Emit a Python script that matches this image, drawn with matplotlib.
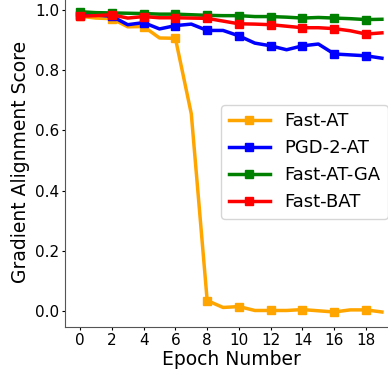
import numpy as np
import matplotlib
matplotlib.use("Agg")
import matplotlib.pyplot as plt

epochs = list(range(20))

fast_at = [0.978, 0.972, 0.970, 0.943, 0.944, 0.906, 0.905, 0.655, 0.036, 0.013,
           0.016, 0.003, 0.003, 0.003, 0.006, 0.002, -0.002, 0.005, 0.005, -0.002]
pgd2_at = [0.983, 0.982, 0.978, 0.950, 0.957, 0.936, 0.947, 0.952, 0.931, 0.931,
           0.913, 0.889, 0.880, 0.867, 0.880, 0.886, 0.853, 0.850, 0.847, 0.839]
fast_at_ga = [0.993, 0.990, 0.989, 0.988, 0.987, 0.985, 0.985, 0.983, 0.981, 0.980,
              0.980, 0.977, 0.977, 0.975, 0.972, 0.974, 0.972, 0.970, 0.967, 0.968]
fast_bat = [0.978, 0.980, 0.983, 0.972, 0.977, 0.973, 0.973, 0.972, 0.971, 0.962,
            0.953, 0.952, 0.950, 0.945, 0.940, 0.940, 0.937, 0.930, 0.919, 0.923]

series = [
    ("Fast-AT", fast_at, "orange"),
    ("PGD-2-AT", pgd2_at, "blue"),
    ("Fast-AT-GA", fast_at_ga, "green"),
    ("Fast-BAT", fast_bat, "red"),
]

fig = plt.figure(figsize=(3.88, 3.73), dpi=100)
# axes run slightly past the right/top edge, as in the cropped original
ax = fig.add_axes([0.1675, 0.1233, 0.8557, 0.8855])

for name, vals, color in series:
    ax.plot(epochs, vals, color=color, linewidth=2.5, marker="s",
            markersize=6.3, markevery=2, label=name)

ax.set_xticks(range(0, 19, 2))
ax.set_yticks([0.0, 0.2, 0.4, 0.6, 0.8, 1.0])
ax.tick_params(labelsize=11, length=2.5, pad=1.5)
for sp in ax.spines.values():
    sp.set_color("#555555")
ax.set_xlabel("Epoch Number", fontsize=13.5, labelpad=2)
ax.set_ylabel("Gradient Alignment Score", fontsize=13.5, labelpad=4)
ax.legend(loc="center right", fontsize=13, handlelength=2.3,
          borderaxespad=0.5)

fig.savefig("out.png", dpi=100)
